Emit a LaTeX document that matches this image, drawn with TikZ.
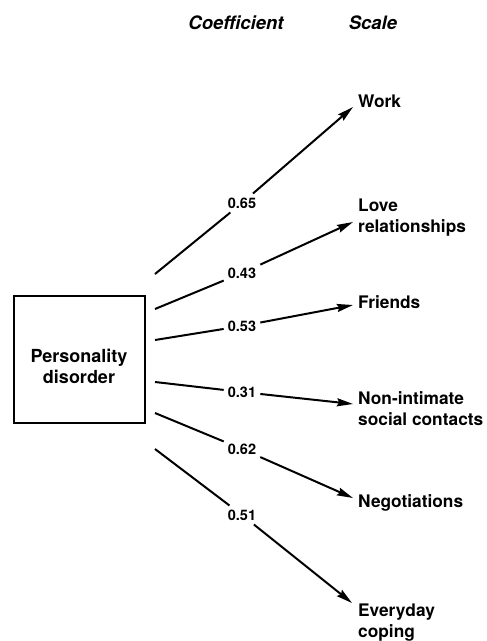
\documentclass[tikz,border=0pt]{standalone}
\usepackage{fontspec}
\setmainfont{TeX Gyre Heros}
\usetikzlibrary{arrows.meta}
\tikzset{
  conn/.style={line width=2pt},
  arr/.style={conn,-{Stealth[length=16pt,width=8pt,inset=2pt]}},
  coef/.style={font=\fontsize{14.5}{17}\selectfont\bfseries, inner sep=4pt},
  scalelbl/.style={font=\fontsize{17.3}{21}\selectfont\bfseries, anchor=west, align=left, inner sep=0pt},
  head/.style={font=\fontsize{18.5}{21}\selectfont\bfseries\itshape, inner sep=0pt},
  box/.style={draw, line width=1.7pt, minimum width=131pt, minimum height=127pt, inner sep=0pt}
}
\begin{document}
\begin{tikzpicture}[x=1pt,y=-1pt]
\useasboundingbox (0,0) rectangle (487,641);
% headers
\node[head] (hcoef) at (236,23) {Coefficient};
\node[head] (hscale) at (373,23) {Scale};
% box
\node[box] (pd) at (79.5,359.5) {};
\node[font=\fontsize{18}{21}\selectfont\bfseries, align=center, inner sep=0pt] (pdtext) at (79,366) {Personality\\disorder};
% start points
\coordinate (s1) at (155,274);
\coordinate (s2) at (155,309);
\coordinate (s3) at (155,340);
\coordinate (s4) at (155,382);
\coordinate (s5) at (155,413);
\coordinate (s6) at (155,449);
% arrow tips
\coordinate (t1) at (353,107);
\coordinate (t2) at (353,222);
\coordinate (t3) at (353,305);
\coordinate (t4) at (353,404);
\coordinate (t5) at (353,498);
\coordinate (t6) at (352,603);
% coefficients
\node[coef] (c1) at (242,203) {0.65};
\node[coef] (c2) at (242,273) {0.43};
\node[coef] (c3) at (242,326) {0.53};
\node[coef] (c4) at (242,392) {0.31};
\node[coef] (c5) at (242,449) {0.62};
\node[coef] (c6) at (242,515) {0.51};
% scales
\node[scalelbl] (n1) at (358,101) {Work};
\node[scalelbl] (n2) at (358,217.5) {Love\\relationships};
\node[scalelbl] (n3) at (358,302) {Friends};
\node[scalelbl] (n4) at (358,408.5) {Non-intimate\\social contacts};
\node[scalelbl] (n5) at (358,503) {Negotiations};
\node[scalelbl] (n6) at (358,623) {Everyday\\coping};
% connectors
\foreach \i in {1,...,6} {
  \draw[conn] (s\i) -- (c\i);
  \draw[arr] (c\i) -- (t\i);
}
\end{tikzpicture}
\end{document}
